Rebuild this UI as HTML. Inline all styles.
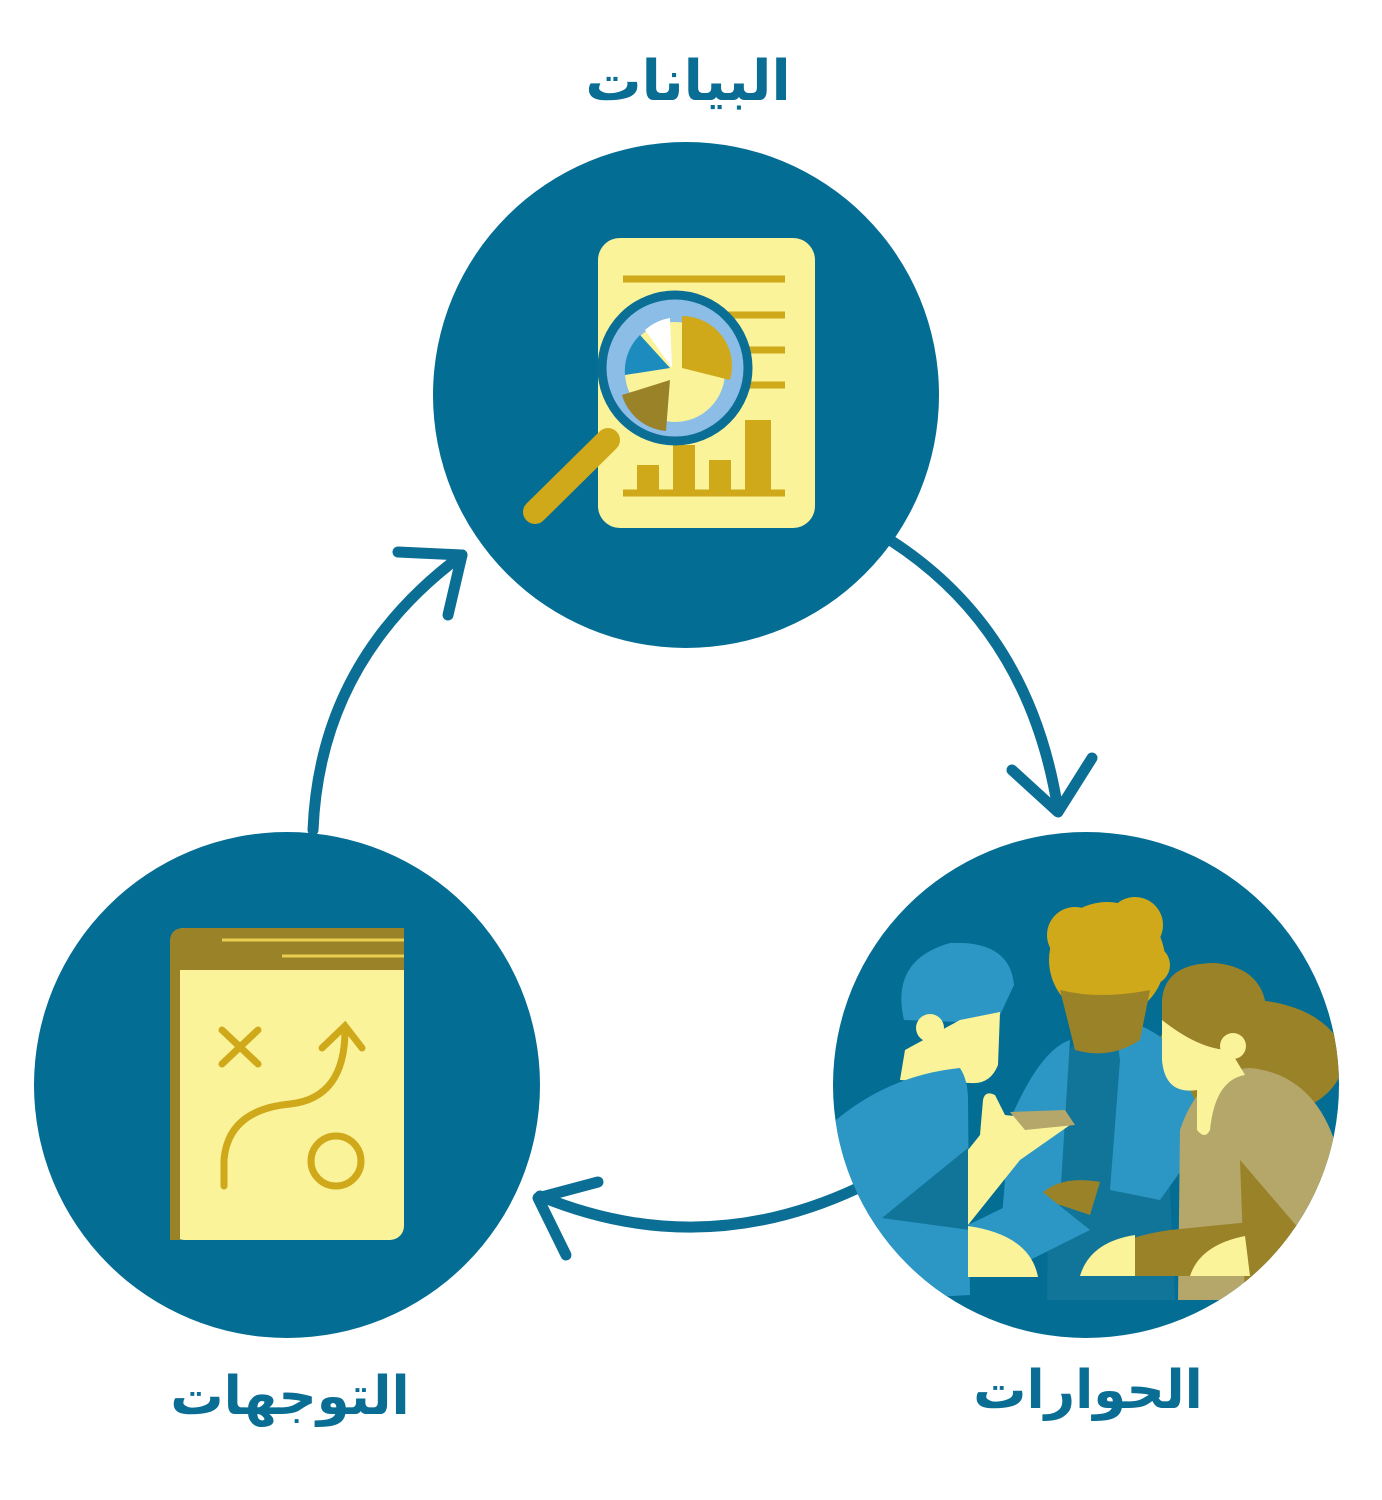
<!DOCTYPE html>
<html><head><meta charset="utf-8"><style>
html,body{margin:0;padding:0;background:#fff;width:1382px;height:1500px;overflow:hidden}
text{font-family:"Liberation Sans","DejaVu Sans",sans-serif;font-weight:bold;fill:#0a6d94}
</style></head><body>
<svg width="1382" height="1500" viewBox="0 0 1382 1500" xmlns="http://www.w3.org/2000/svg">
<defs><clipPath id="c3"><circle cx="1086" cy="1085" r="253"/></clipPath></defs>
<text x="688" y="100" font-size="56" text-anchor="middle" direction="rtl">البيانات</text>
<text x="290" y="1414" font-size="53" text-anchor="middle" direction="rtl">التوجهات</text>
<text x="1088" y="1408" font-size="53" text-anchor="middle" direction="rtl">الحوارات</text>
<g fill="none" stroke="#0b6e94" stroke-width="11" stroke-linecap="round" stroke-linejoin="round">
<path d="M890 540 Q1030 630 1058 810"/><path d="M1012 770 L1058 812 L1092 758"/>
<path d="M858 1188 Q700 1262 540 1196"/><path d="M598 1182 L538 1198 L566 1255"/>
<path d="M313 830 Q320 660 462 555"/><path d="M398 552 L462 555 L448 615"/>
</g>
<circle cx="686" cy="395" r="253" fill="#046d94"/>
<circle cx="287" cy="1085" r="253" fill="#046d94"/>
<circle cx="1086" cy="1085" r="253" fill="#046d94"/>
<rect x="598" y="238" width="217" height="290" rx="22" fill="#faf39a"/>
<g stroke="#cfa91a" stroke-width="7"><line x1="623" y1="279" x2="785" y2="279"/><line x1="700" y1="315" x2="785" y2="315"/><line x1="720" y1="350" x2="785" y2="350"/><line x1="720" y1="385" x2="785" y2="385"/><line x1="623" y1="493" x2="785" y2="493"/></g>
<g fill="#cfa91a"><rect x="637" y="465" width="22" height="28"/><rect x="673" y="445" width="22" height="48"/><rect x="709" y="460" width="22" height="33"/><rect x="745" y="420" width="26" height="73"/></g>
<line x1="535" y1="512" x2="608" y2="440" stroke="#cfa91a" stroke-width="24" stroke-linecap="round"/>
<circle cx="675" cy="368" r="73" fill="#8bbde6" stroke="#0b6e94" stroke-width="9"/>
<circle cx="675" cy="372" r="50" fill="#faf39a"/>
<path d="M682 368 L682 316 A50 50 0 0 1 730 380 Z" fill="#cfa91a"/>
<path d="M670 380 L622 395 A50 50 0 0 0 666 431 Z" fill="#9a8228"/>
<path d="M670 368 L625 375 A50 50 0 0 1 640 335 Z" fill="#1b8cbd"/>
<path d="M672 368 L645 330 A50 50 0 0 1 670 318 Z" fill="#fff"/>
<rect x="170" y="928" width="234" height="312" rx="14" fill="#faf39a"/>
<path d="M184 928 H404 V970 H170 V942 Q170 928 184 928Z" fill="#9a8228"/>
<rect x="170" y="940" width="10" height="300" fill="#9a8228"/>
<g stroke="#e8cd50" stroke-width="3"><line x1="222" y1="940" x2="404" y2="940"/><line x1="282" y1="956" x2="404" y2="956"/></g>
<g fill="none" stroke="#cfa91a" stroke-width="7" stroke-linecap="round">
<path d="M222 1030 L258 1064 M258 1030 L222 1064"/>
<path d="M224 1186 V1160 Q228 1110 290 1104 Q345 1098 345 1030"/><path d="M322 1048 L345 1026 L362 1048"/>
<circle cx="336" cy="1161" r="25"/></g>
<g clip-path="url(#c3)">
<ellipse cx="1248" cy="1060" rx="95" ry="60" fill="#9a8228"/>
<path d="M1047 1300 L1050 1080 Q1070 1030 1120 1030 Q1160 1035 1165 1080 L1175 1300Z" fill="#117499"/>
<path d="M1120 1060 Q1110 1000 1165 1040 L1210 1130 L1160 1200 L1110 1190Z" fill="#2c97c5"/>
<path d="M1010 1120 Q1040 1050 1070 1040 L1060 1200 L1000 1240Z" fill="#2c97c5"/>
<circle cx="1107" cy="960" r="58" fill="#cfa91a"/><circle cx="1075" cy="935" r="28" fill="#cfa91a"/><circle cx="1135" cy="925" r="28" fill="#cfa91a"/><circle cx="1150" cy="965" r="20" fill="#cfa91a"/>
<path d="M1060 990 Q1100 1000 1150 990 L1140 1040 Q1110 1060 1075 1050Z" fill="#9a8228"/>
<path d="M1040 1195 Q1060 1175 1100 1182 L1090 1215 L1045 1200Z" fill="#9a8228"/>
<path d="M1178 1300 L1180 1130 Q1200 1070 1250 1068 Q1320 1075 1340 1160 L1340 1300Z" fill="#b5a76a"/>
<path d="M1240 1160 L1300 1230 L1260 1300 L1245 1300Z" fill="#9a8228"/>
<path d="M1162 1000 Q1165 963 1215 963 Q1268 968 1267 1020 L1240 1050 L1162 1030Z" fill="#9a8228"/>
<path d="M1162 1020 Q1200 1050 1230 1050 L1245 1075 Q1215 1080 1210 1130 Q1205 1140 1197 1130 L1197 1090 Q1165 1095 1162 1060Z" fill="#faf39a"/>
<circle cx="1233" cy="1046" r="13" fill="#faf39a"/>
<path d="M1080 1276 Q1100 1240 1170 1230 L1250 1222 L1250 1276Z" fill="#9a8228"/>
<path d="M1080 1276 Q1090 1242 1135 1235 L1135 1276Z" fill="#faf39a"/>
<path d="M1190 1276 Q1200 1245 1245 1236 L1250 1276Z" fill="#faf39a"/>
<path d="M904 1020 Q890 960 950 943 Q1010 940 1014 985 L1000 1015 L960 1022Z" fill="#2c97c5"/>
<path d="M900 1080 L905 1050 L960 1020 L1000 1012 L998 1065 Q990 1085 970 1083Z" fill="#faf39a"/>
<circle cx="930" cy="1028" r="14" fill="#faf39a"/>
<path d="M836 1120 Q890 1075 960 1068 Q968 1080 968 1100 L970 1295 L880 1300 L836 1260Z" fill="#2c97c5"/>
<path d="M882 1218 L968 1148 L970 1230Z" fill="#117499"/>
<path d="M968 1225 L1020 1160 L1070 1125 L1050 1120 L1005 1115 L995 1095 Q985 1090 983 1100 L980 1135 L968 1150Z" fill="#faf39a"/>
<path d="M1010 1112 L1065 1110 L1075 1125 L1025 1130Z" fill="#b5a76a"/>
<path d="M968 1225 L1040 1190 L1090 1230 L1030 1260Z" fill="#2c97c5"/>
<path d="M968 1226 Q1030 1235 1038 1277 L968 1277Z" fill="#faf39a"/>
</g>
</svg>
</body></html>
